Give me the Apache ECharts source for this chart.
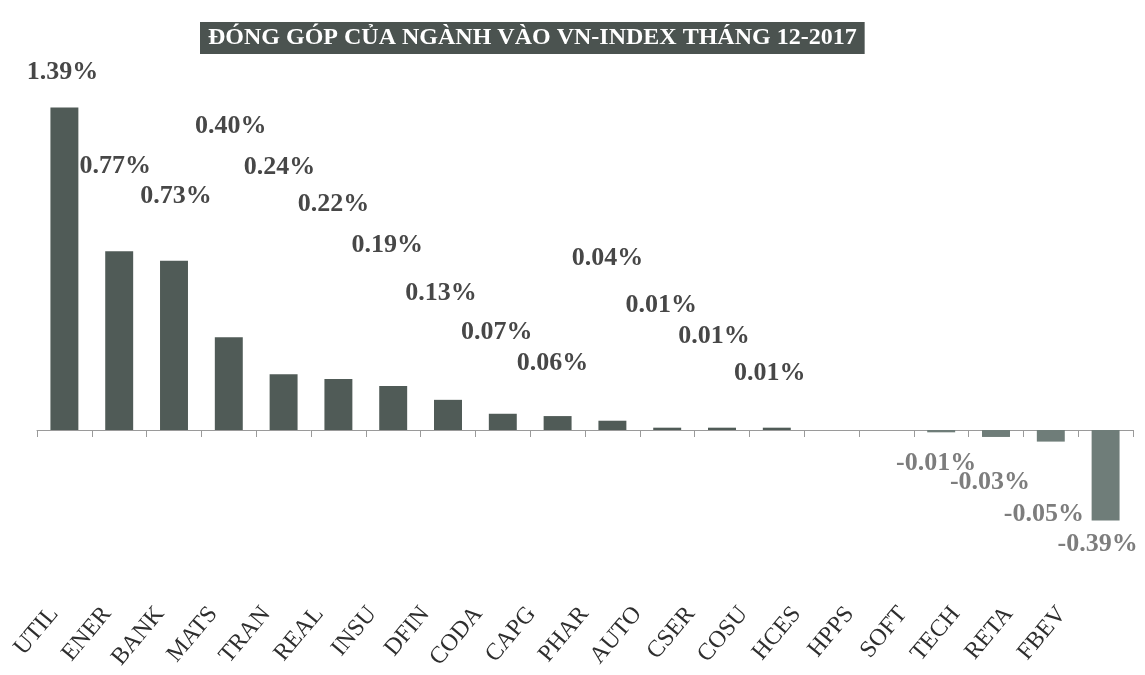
<!DOCTYPE html>
<html>
<head>
<meta charset="utf-8">
<title>Đóng góp của ngành vào VN-Index tháng 12-2017</title>
<script src="https://cdn.jsdelivr.net/npm/echarts@6/dist/echarts.min.js"></script>
<style>
  html, body { margin: 0; padding: 0; background: #ffffff; }
  #chart { width: 1145px; height: 675px; }
</style>
</head>
<body>
<div id="chart"></div>
<script>
// Sector codes, left to right
const categories = ['UTIL', 'ENER', 'BANK', 'MATS', 'TRAN', 'REAL', 'INSU', 'DFIN', 'CODA', 'CAPG',
                    'PHAR', 'AUTO', 'CSER', 'COSU', 'HCES', 'HPPS', 'SOFT', 'TECH', 'RETA', 'FBEV'];

// Contribution of each sector to the VN-Index change, in percentage points
const contribution = [1.39, 0.77, 0.73, 0.40, 0.24, 0.22, 0.19, 0.13, 0.07, 0.06,
                      0.04, 0.01, 0.01, 0.01, 0.00, 0.00, -0.01, -0.03, -0.05, -0.39];

// Value-axis range
const valueMin = -0.5;
const valueMax = 1.5;

// Label placement: height of each label's centre above the zero line (px) and sideways nudge (px).
// null = no label for that sector.
const labelLift = [358, 264, 234, 304, 263, 226, 185, 137, 98, 67,
                   172, 125, 94, 57, null, null, -33, -52, -84, -114];
const labelShiftX = [-2, -4, 2, 2, -4, -5, -6, -7, -6, -5,
                     -5, -6, -8, -7, 0, 0, -5, -6, -7, -8];

const posColor = '#505b57';
const negColor = '#6f7d79';
const posLabelColor = '#474747';
const negLabelColor = '#7d7d7d';
const serif = "'Liberation Serif', 'DejaVu Serif', serif";

const chart = echarts.init(document.getElementById('chart'), null, { renderer: 'canvas' });

chart.setOption({
  backgroundColor: '#ffffff',
  animation: false,
  title: {
    text: 'ĐÓNG GÓP CỦA NGÀNH VÀO VN-INDEX THÁNG 12-2017',
    left: 200,
    top: 22,
    padding: [4, 8],
    backgroundColor: '#4b5350',
    textStyle: {
      color: '#ffffff',
      fontFamily: serif,
      fontWeight: 'bold',
      fontSize: 24,
      lineHeight: 24
    }
  },
  grid: [
    // plot area for the bars
    { left: 37, right: 12, top: 82, bottom: 129, containLabel: false },
    // sector-name band, spaced a little tighter than the bars
    { left: 27.5, right: 56.5, top: 82, bottom: 129, containLabel: false }
  ],
  xAxis: [
    {
      type: 'category',
      gridIndex: 0,
      data: categories,
      position: 'bottom',
      axisLine: { onZero: true, lineStyle: { color: '#9a9a9a', width: 1 } },
      axisTick: { show: true, length: 7, lineStyle: { color: '#9a9a9a' } },
      axisLabel: { show: false },
      splitLine: { show: false }
    },
    {
      type: 'category',
      gridIndex: 1,
      data: categories,
      position: 'bottom',
      axisLine: { show: false, onZero: false },
      axisTick: { show: false },
      axisLabel: {
        show: true,
        interval: 0,
        rotate: 50,
        margin: 64,
        color: '#2e2e2e',
        fontFamily: serif,
        fontSize: 24
      },
      splitLine: { show: false }
    }
  ],
  yAxis: [
    { type: 'value', gridIndex: 0, min: valueMin, max: valueMax, show: false, splitLine: { show: false } },
    { type: 'value', gridIndex: 1, min: valueMin, max: valueMax, show: false, splitLine: { show: false } }
  ],
  series: [
    {
      type: 'bar',
      xAxisIndex: 0,
      yAxisIndex: 0,
      barWidth: '51%',
      data: contribution,
      label: {
        show: true,
        position: 'inside',
        fontFamily: serif,
        fontWeight: 'bold',
        fontSize: 26,
        lineHeight: 26,
        formatter: (p) => p.value.toFixed(2) + '%'
      }
    }
  ]
});

// Place each value label relative to the zero line using the axis scale
const y0 = chart.convertToPixel({ yAxisIndex: 0 }, 0);
const barData = contribution.map((v, i) => {
  const yv = chart.convertToPixel({ yAxisIndex: 0 }, v);
  const lift = labelLift[i];
  const neg = v < 0;
  return {
    value: v,
    itemStyle: { color: neg ? negColor : posColor },
    label: lift === null
      ? { show: false }
      : {
          show: true,
          color: neg ? negLabelColor : posLabelColor,
          offset: [labelShiftX[i], (y0 - lift) - (y0 + yv) / 2]
        }
  };
});
chart.setOption({ series: [{ data: barData }] });
</script>
</body>
</html>
